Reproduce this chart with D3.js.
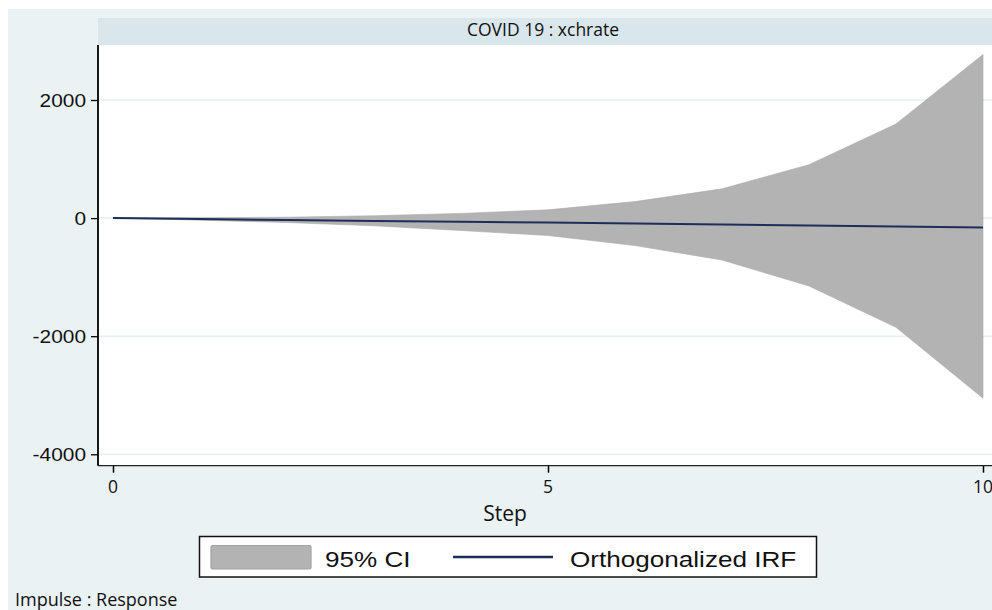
<!DOCTYPE html>
<html>
<head>
<meta charset="utf-8">
<script src="https://cdn.jsdelivr.net/npm/d3@7"></script>
<style>
html,body{margin:0;padding:0;background:#ffffff;}
svg{display:block;}
</style>
</head>
<body>
<svg id="chart" width="992" height="610"></svg>
<script>
// ---- data ----
const steps = [0, 1, 2, 3, 4, 5, 6, 7, 8, 9, 10];
const irf   = [0, -17, -33, -48, -62, -75, -92, -108, -125, -142, -159];
const ciLow = [0, -35, -75, -130, -210, -295, -465, -710, -1150, -1850, -3050];
const ciUp  = [0, 5, 15, 40, 80, 140, 280, 495, 905, 1595, 2770];
const yTicks = [-4000, -2000, 0, 2000];
const xTicks = [0, 5, 10];
const panelTitle = "COVID 19 : xchrate";
const xTitle = "Step";
const legendLabels = ["95% CI", "Orthogonalized IRF"];
const note = "Impulse : Response";

const svg = d3.select("#chart");
const W = 992, H = 610;
const plot = {left: 98, right: 996, top: 45, bottom: 465.7};

const x = d3.scaleLinear().domain([0, 10]).range([113, 983]);
const y = d3.scaleLinear().domain([-4000, 2000]).range([454.3, 100]);

const armFont = "'Liberation Sans', Arial, sans-serif";
const calFont = "'Open Sans', 'Noto Sans', sans-serif";
const stretch = 1.16;

// outer background
svg.append("rect").attr("x", 0).attr("y", 0).attr("width", W).attr("height", H).attr("fill", "#ffffff");
svg.append("rect").attr("x", 8).attr("y", 9).attr("width", W - 8).attr("height", H - 9).attr("fill", "#eaf2f3");

// title strip
svg.append("rect").attr("x", plot.left).attr("y", 18).attr("width", plot.right - plot.left).attr("height", plot.top - 18)
  .attr("fill", "#d9e6eb");
svg.append("text").attr("x", 543).attr("y", 35.5).attr("text-anchor", "middle")
  .attr("font-family", calFont).attr("font-size", 17.5).attr("fill", "#111").text(panelTitle);

// plot area
svg.append("rect").attr("x", plot.left).attr("y", plot.top).attr("width", plot.right - plot.left)
  .attr("height", plot.bottom - plot.top).attr("fill", "#ffffff");

// gridlines
svg.append("g").selectAll("line").data(yTicks).join("line")
  .attr("x1", plot.left).attr("x2", plot.right)
  .attr("y1", d => y(d)).attr("y2", d => y(d))
  .attr("stroke", "#e6eff2").attr("stroke-width", 1.5);

// CI band
const data = steps.map((s, i) => ({s, lo: ciLow[i], up: ciUp[i], v: irf[i]}));
svg.append("path").datum(data)
  .attr("d", d3.area().x(d => x(d.s)).y0(d => y(d.lo)).y1(d => y(d.up)))
  .attr("fill", "#b3b3b3").attr("stroke", "#a9a9a9").attr("stroke-width", 0.6);

// IRF line
svg.append("path").datum(data)
  .attr("d", d3.line().x(d => x(d.s)).y(d => y(d.v)))
  .attr("fill", "none").attr("stroke", "#1f2d5a").attr("stroke-width", 2);

// axes
const yAxis = svg.append("g").attr("transform", `translate(${plot.left},0)`)
  .call(d3.axisLeft(y).tickValues(yTicks).tickSize(7).tickFormat(""));
yAxis.select(".domain").remove();
yAxis.selectAll("line").attr("stroke", "#000").attr("stroke-width", 1.3);
svg.append("line").attr("x1", plot.left).attr("x2", plot.left).attr("y1", plot.top).attr("y2", plot.bottom)
  .attr("stroke", "#000").attr("stroke-width", 1.8);

const xAxis = svg.append("g").attr("transform", `translate(0,${plot.bottom})`)
  .call(d3.axisBottom(x).tickValues(xTicks).tickSize(7).tickFormat(""));
xAxis.select(".domain").remove();
xAxis.selectAll("line").attr("stroke", "#000").attr("stroke-width", 1.5);
svg.append("line").attr("x1", plot.left).attr("x2", plot.right).attr("y1", plot.bottom).attr("y2", plot.bottom)
  .attr("stroke", "#222").attr("stroke-width", 1.3);

// y tick labels (stretched Arial)
svg.append("g").selectAll("g").data(yTicks).join("g")
  .attr("transform", d => `translate(86,${y(d) + 7}) scale(${stretch},1)`)
  .append("text").attr("text-anchor", "end")
  .attr("font-family", armFont).attr("font-size", 18).attr("fill", "#111")
  .text(d => d);

// x tick labels
svg.append("g").selectAll("text").data(xTicks).join("text")
  .attr("x", d => x(d)).attr("y", 492.5).attr("text-anchor", "middle")
  .attr("font-family", calFont).attr("font-size", 17.5).attr("fill", "#111")
  .text(d => d);

// x title
svg.append("text").attr("x", 505).attr("y", 521).attr("text-anchor", "middle")
  .attr("font-family", calFont).attr("font-size", 21).attr("fill", "#111").text(xTitle);

// legend
const lg = svg.append("g");
lg.append("rect").attr("x", 199.5).attr("y", 536.5).attr("width", 617).attr("height", 40.5)
  .attr("fill", "#ffffff").attr("stroke", "#111").attr("stroke-width", 1.5);
lg.append("rect").attr("x", 211).attr("y", 545.5).attr("width", 100).attr("height", 23.5).attr("rx", 1.5)
  .attr("fill", "#b3b3b3").attr("stroke", "#a2a2a2").attr("stroke-width", 1.2);
lg.append("g").attr("transform", `translate(325,567) scale(${stretch},1)`)
  .append("text").attr("font-family", armFont).attr("font-size", 22.5).attr("fill", "#111").text(legendLabels[0]);
lg.append("line").attr("x1", 453).attr("x2", 553).attr("y1", 557).attr("y2", 557)
  .attr("stroke", "#1f2d5a").attr("stroke-width", 2.5);
lg.append("g").attr("transform", `translate(570,567) scale(${stretch},1)`)
  .append("text").attr("font-family", armFont).attr("font-size", 22.5).attr("fill", "#111").text(legendLabels[1]);

// note
svg.append("text").attr("x", 15).attr("y", 605.5)
  .attr("font-family", calFont).attr("font-size", 18).attr("fill", "#111").text(note);
</script>
</body>
</html>
